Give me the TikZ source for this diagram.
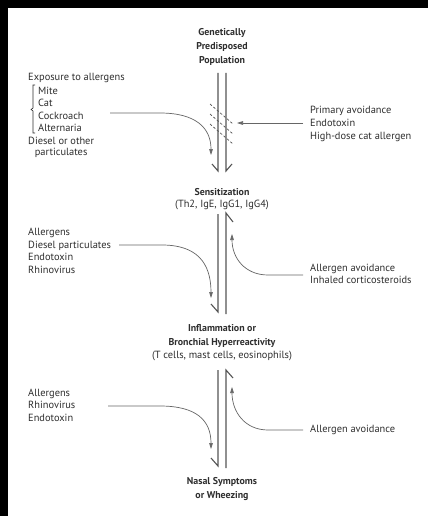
\documentclass[tikz,border=0pt]{standalone}
\usepackage{fontspec}
\setmainfont{PT Sans}
\usetikzlibrary{arrows.meta}
\definecolor{txt}{HTML}{2E2E2E}
\definecolor{ln}{HTML}{555555}
\definecolor{cv}{HTML}{666666}
\tikzset{
  lbl/.style={inner sep=0pt, text=txt, font=\fontsize{10.4}{12.6}\selectfont, align=left},
  title/.style={inner sep=0pt, text=txt, font=\bfseries\fontsize{9.9}{14}\selectfont, align=center},
  rail/.style={draw=ln, line width=1.1pt},
  curvearrow/.style={draw=cv, line width=0.7pt, -{Triangle[length=6pt,width=3.6pt]}},
  hatch/.style={draw=ln, line width=0.7pt, dash pattern=on 2.5pt off 2pt}
}
\begin{document}
\begin{tikzpicture}[x=1pt,y=-1pt]
\useasboundingbox (0,0) rectangle (428,516);
\fill[black] (0,0) rectangle (428,516);
\fill[white] (8,8) rectangle (428,516);

% titles
\node[title] (gen) at (222,47) {Genetically\\Predisposed\\Population};
\node[title] (sens) at (222,192) {Sensitization};
\node[lbl, align=center] (sensd) at (222,205) {(Th2, IgE, IgG1, IgG4)};
\node[title] (infl) at (222,336) {Inflammation or\\Bronchial Hyperreactivity};
\node[lbl, align=center] (infld) at (222,356) {(T cells, mast cells, eosinophils)};
\node[title] (nasal) at (222,489) {Nasal Symptoms\\or Wheezing};

% left texts section 1
\node[lbl, anchor=west] (expo) at (28,78) {Exposure to allergens};
\node[lbl, anchor=west] (mite) at (38,90.5) {Mite};
\node[lbl, anchor=west] (cat) at (38,103) {Cat};
\node[lbl, anchor=west] (cock) at (38,115.5) {Cockroach};
\node[lbl, anchor=west] (alt) at (38,128) {Alternaria};
\node[lbl, anchor=west] (dies) at (28,140.5) {Diesel or other};
\node[lbl] (part) at (dies.center |- 0,153) {particulates};
\draw[draw=txt, line width=0.6pt] (35,85) -- (33,85) -- (33,108) -- (31,109.5) -- (33,111) -- (33,133) -- (35,133);

% right texts section 1
\node[lbl, anchor=west] (prim) at (310,124) {Primary avoidance\\Endotoxin\\High-dose cat allergen};

% section 2 texts
\node[lbl, anchor=west] (al2) at (28,251) {Allergens\\Diesel particulates\\Endotoxin\\Rhinovirus};
\node[lbl, anchor=west] (av2) at (310,274) {Allergen avoidance\\Inhaled corticosteroids};

% section 3 texts
\node[lbl, anchor=west] (al3) at (28,405) {Allergens\\Rhinovirus\\Endotoxin};
\node[lbl, anchor=west] (av3) at (310,430) {Allergen avoidance};

% coordinates for rails
\coordinate (r1lt) at (218,73);  \coordinate (r1lb) at (218,171);
\coordinate (r1rt) at (226,73);  \coordinate (r1rb) at (226,171);
\coordinate (r2lt) at (218,214); \coordinate (r2lb) at (218,312);
\coordinate (r2rt) at (226,213); \coordinate (r2rb) at (226,314);
\coordinate (r3lt) at (218,370); \coordinate (r3lb) at (218,466);
\coordinate (r3rt) at (226,370); \coordinate (r3rb) at (226,468);

% section 1 rails, both down
\draw[rail] (r1lt) -- (r1lb) -- ++(-6,-7);
\draw[rail] (r1rt) -- (r1rb) -- ++(6,-7);
% section 2: left down, right up
\draw[rail] (r2lt) -- (r2lb) -- ++(-7,-8);
\draw[rail] (r2rb) -- (r2rt) -- ++(7,9);
% section 3
\draw[rail] (r3lt) -- (r3lb) -- ++(-7,-8);
\draw[rail] (r3rb) -- (r3rt) -- ++(7,8);

% hatching
\draw[hatch] (210,104) -- (233,124);
\draw[hatch] (210,114) -- (233,134);
\draw[hatch] (210,124) -- (233,144);

% arrows section 1
\coordinate (a1s) at (110,113); \coordinate (a1e) at (211,155);
\draw[curvearrow] (a1s) -- (160,113) .. controls (196,113) and (211,128) .. (a1e);
\coordinate (b1s) at (303,123); \coordinate (b1e) at (237,123);
\draw[curvearrow] (b1s) -- (b1e);

% arrows section 2
\coordinate (a2s) at (119,245); \coordinate (a2e) at (211,298);
\draw[curvearrow] (a2s) -- (162,245) .. controls (196,245) and (211,262) .. (a2e);
\coordinate (b2s) at (303,275); \coordinate (b2e) at (232,234);
\draw[curvearrow] (b2s) -- (268,275) .. controls (245,275) and (232,258) .. (b2e);

% arrows section 3
\coordinate (a3s) at (108,406); \coordinate (a3e) at (211,449);
\draw[curvearrow] (a3s) -- (160,406) .. controls (196,406) and (211,420) .. (a3e);
\coordinate (b3s) at (303,430); \coordinate (b3e) at (232,387);
\draw[curvearrow] (b3s) -- (268,430) .. controls (245,430) and (232,412) .. (b3e);
\end{tikzpicture}
\end{document}
